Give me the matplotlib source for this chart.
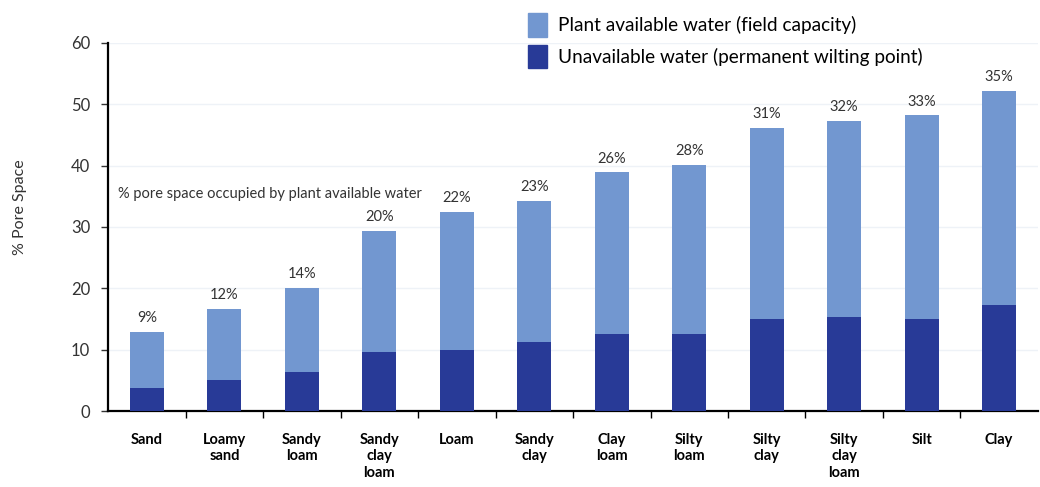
import numpy as np
import matplotlib.pyplot as plt
from matplotlib.patches import Patch

# ---- data ----
soils = ['Sand', 'Loamy\nsand', 'Sandy\nloam', 'Sandy\nclay\nloam', 'Loam', 'Sandy\nclay',
         'Clay\nloam', 'Silty\nloam', 'Silty\nclay', 'Silty\nclay\nloam', 'Silt', 'Clay']
field_capacity = [12.9, 16.6, 20.1, 29.4, 32.5, 34.3, 38.9, 40.1, 46.1, 47.3, 48.2, 52.2]
wilting_point = [3.7, 5.1, 6.4, 9.6, 10.0, 11.3, 12.5, 12.5, 15.0, 15.3, 15.0, 17.2]
paw_labels = ['9%', '12%', '14%', '20%', '22%', '23%', '26%', '28%', '31%', '32%', '33%', '35%']

light = '#7297d0'
dark = '#283a97'

plt.rcParams['font.family'] = ['Lato', 'DejaVu Sans']

fig = plt.figure(figsize=(10.4, 4.87), dpi=100)
ax = fig.add_axes([0.104, 0.156, 0.894, 0.756])

x = np.arange(len(soils))
fc = np.array(field_capacity)
wp = np.array(wilting_point)
ax.bar(x, wp, width=0.44, color=dark, zorder=3)
ax.bar(x, fc - wp, bottom=wp, width=0.44, color=light, zorder=3)

for xi, top, lab in zip(x, fc, paw_labels):
    ax.text(xi, top + 1.1, lab, ha='center', va='bottom', fontsize=10.5, color='#333333')

ax.text(-0.37, 35.3, '% pore space occupied by plant available water', fontsize=10.5,
        ha='left', va='center', color='#333333')

ax.set_xlim(-0.5, len(soils) - 0.5)
ax.set_ylim(0, 60)
ax.set_yticks(np.arange(0, 61, 10))
ax.tick_params(axis='y', labelsize=12, length=5, width=1, pad=8, colors='#333333')
ax.set_xticks(x)
ax.set_xticklabels(soils, fontsize=10.5, fontweight='bold', linespacing=1.2)
ax.tick_params(axis='x', which='major', length=0, pad=16)
ax.set_xticks(np.arange(0.5, len(soils) - 0.5, 1), minor=True)
ax.tick_params(axis='x', which='minor', length=5, width=1)
ax.grid(axis='y', color='#eef2f7', linewidth=1, zorder=0)

for s in ['top', 'right']:
    ax.spines[s].set_visible(False)
ax.spines['left'].set_linewidth(1.6)
ax.spines['bottom'].set_linewidth(1.6)

fig.text(0.019, 0.575, '% Pore Space', rotation=90, ha='center', va='center',
         fontsize=11.5, color='#333333')

handles = [Patch(color=light), Patch(color=dark)]
fig.legend(handles, ['Plant available water (field capacity)',
                     'Unavailable water (permanent wilting point)'],
           loc='upper left', bbox_to_anchor=(0.495, 1.0), frameon=False,
           fontsize=13.7, handlelength=1.0, handleheight=1.5, handletextpad=0.55,
           labelspacing=0.45, borderaxespad=0.3)

fig.savefig('out.png', dpi=100)
